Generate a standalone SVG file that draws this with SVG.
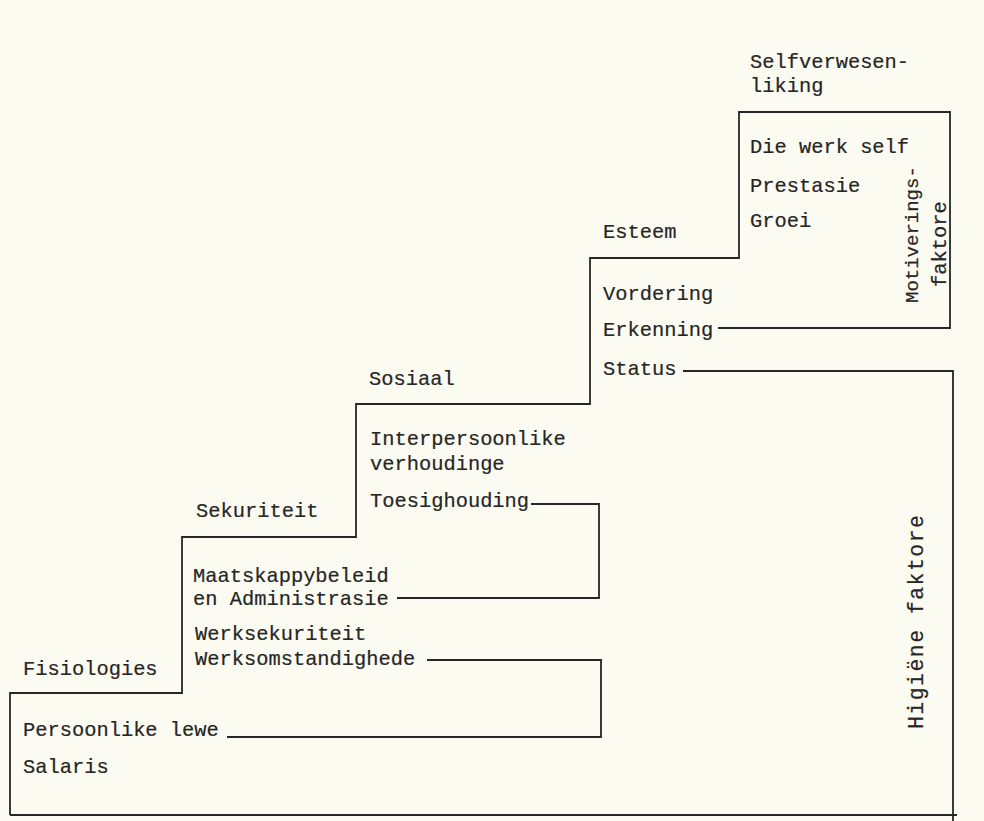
<svg xmlns="http://www.w3.org/2000/svg" width="984" height="821" viewBox="0 0 984 821">
<style>
text{font-family:"Liberation Mono","DejaVu Sans Mono",monospace;font-size:20.4px;fill:#262626;stroke:#262626;stroke-width:0.2}
.mid{font-size:21.5px}
.sm{font-size:19px}
.ln{fill:none;stroke:#262626;stroke-width:1.8;stroke-linejoin:miter}
</style>
<rect width="984" height="821" fill="#fcfbf1"/>
<g id="connectors">
<path class="ln" d="M10,815 V693 H182 V537 H356 V404 H590 V258 H739 V112 H950 V328 H718"/>
<path class="ln" d="M10,815 H957"/>
<path class="ln" d="M683,371 H953 V821"/>
<path class="ln" d="M531,504 H599 V598 H397"/>
<path class="ln" d="M427,660 H601 V737 H227"/>
</g>
<g id="selfverwesenliking">
<text x="750" y="68">Selfverwesen-</text>
<text x="750" y="92">liking</text>
<text x="750" y="153">Die werk self</text>
<text x="750" y="192">Prestasie</text>
<text x="750" y="227">Groei</text>
</g>
<g id="esteem">
<text x="603" y="238">Esteem</text>
<text x="603" y="300">Vordering</text>
<text x="603" y="336">Erkenning</text>
<text x="603" y="375">Status</text>
</g>
<g id="sosiaal">
<text x="369" y="385">Sosiaal</text>
<text x="370" y="445">Interpersoonlike</text>
<text x="370" y="470">verhoudinge</text>
<text x="370" y="507">Toesighouding</text>
</g>
<g id="sekuriteit">
<text x="196" y="517">Sekuriteit</text>
<text x="193" y="582">Maatskappybeleid</text>
<text x="193" y="605">en Administrasie</text>
<text x="195" y="640">Werksekuriteit</text>
<text x="195" y="665">Werksomstandighede</text>
</g>
<g id="fisiologies">
<text x="23" y="675">Fisiologies</text>
<text x="23" y="736">Persoonlike lewe</text>
<text x="23" y="773">Salaris</text>
</g>
<g id="motiveringsfaktore">
<text class="sm" transform="translate(918,303) rotate(-90)">Motiverings-</text>
<text transform="translate(946,287) rotate(-90)">faktore</text>
</g>
<g id="higienefaktore">
<text class="mid" transform="translate(923,729) rotate(-90)" textLength="214" lengthAdjust="spacing">Higiëne faktore</text>
</g>
</svg>
